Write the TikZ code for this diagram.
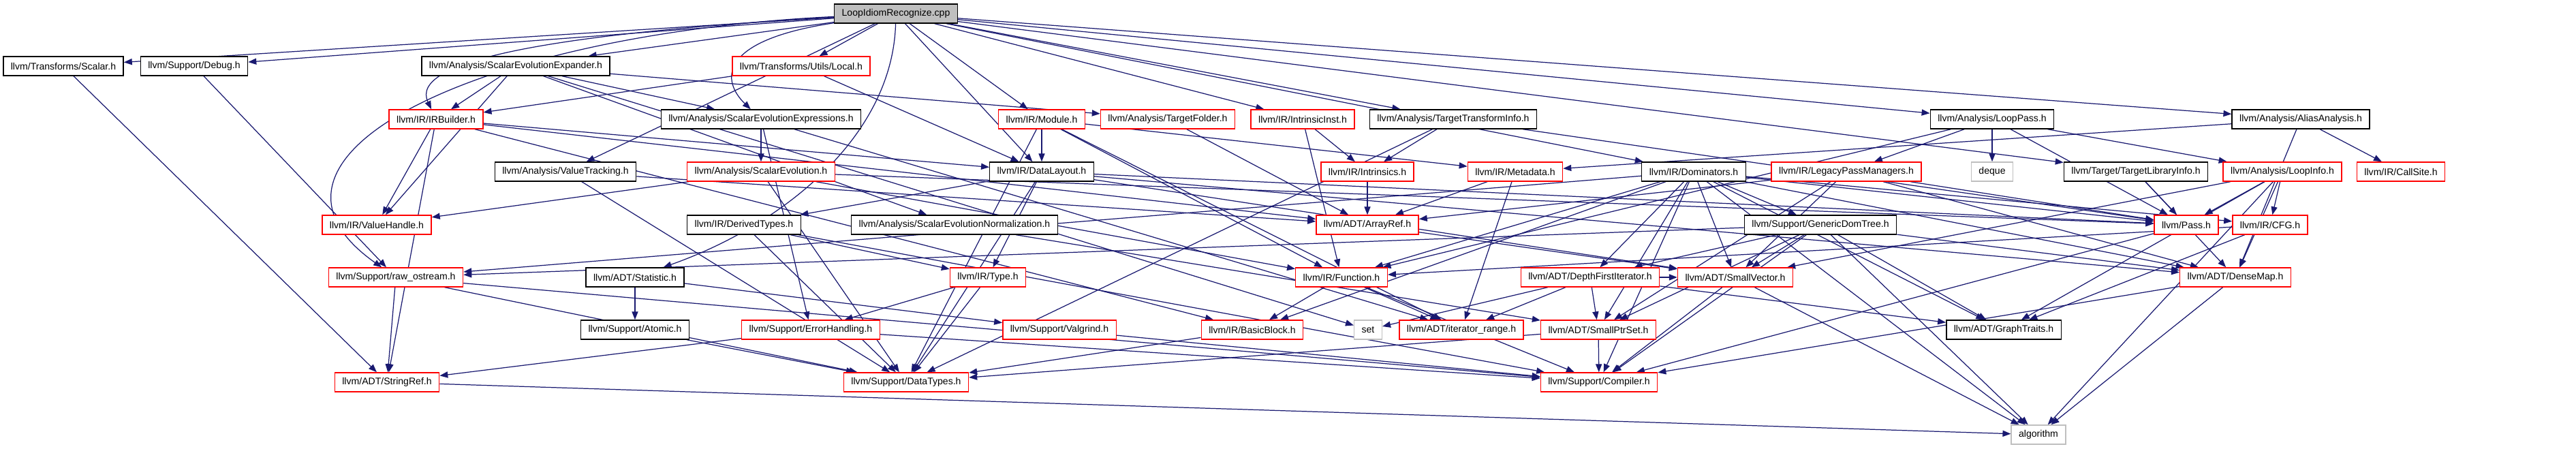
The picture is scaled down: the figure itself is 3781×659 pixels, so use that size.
\documentclass[tikz,border=0pt]{standalone}
\usepackage{fontspec}
\setmainfont{Liberation Sans}
\usetikzlibrary{arrows.meta,backgrounds}
\definecolor{edgeblue}{HTML}{191970}
\definecolor{sysgray}{HTML}{BFBFBF}

\begin{document}
\begin{tikzpicture}[
		x=0.01cm, y=-0.01cm,
		every node/.style={draw=black, fill=white, line width=0.4pt, font=\fontsize{4}{4.8}\selectfont,
			minimum height=0.28cm, inner xsep=0.11cm, inner ysep=0pt},
		trunc/.style={draw=red},
		sys/.style={draw=sysgray},
		srcfile/.style={fill=sysgray},
		dep/.style={draw=edgeblue, line width=0.35pt, -{Triangle[length=3.4pt,width=2.6pt]}}
	]
	\useasboundingbox (0,0) rectangle (3781,659);

	\node[srcfile] (root) at (1315,20) {LoopIdiomRecognize.cpp};

	\node (scalarh) at (93,97) {llvm/Transforms/Scalar.h};
	\node (debugh) at (285,97) {llvm/Support/Debug.h};
	\node (expander) at (757,97) {llvm/Analysis/ScalarEvolutionExpander.h};
	\node[trunc] (localh) at (1176,97) {llvm/Transforms/Utils/Local.h};

	\node[trunc] (irbuilder) at (640,175) {llvm/IR/IRBuilder.h};
	\node (scevexpr) at (1117,175) {llvm/Analysis/ScalarEvolutionExpressions.h};
	\node[trunc] (moduleh) at (1529,175) {llvm/IR/Module.h};
	\node[trunc] (folder) at (1714,175) {llvm/Analysis/TargetFolder.h};
	\node[trunc] (intrinst) at (1912,175) {llvm/IR/IntrinsicInst.h};
	\node (tti) at (2133,175) {llvm/Analysis/TargetTransformInfo.h};
	\node (looppass) at (2924,175) {llvm/Analysis/LoopPass.h};
	\node (alias) at (3377,175) {llvm/Analysis/AliasAnalysis.h};

	\node (valtrack) at (830,252) {llvm/Analysis/ValueTracking.h};
	\node[trunc] (scev) at (1117,252) {llvm/Analysis/ScalarEvolution.h};
	\node (layout) at (1529,252) {llvm/IR/DataLayout.h};
	\node[trunc] (intrinsics) at (2007,252) {llvm/IR/Intrinsics.h};
	\node[trunc] (metadata) at (2224,252) {llvm/IR/Metadata.h};
	\node (domtree) at (2486,252) {llvm/IR/Dominators.h};
	\node[trunc] (legacypm) at (2710,252) {llvm/IR/LegacyPassManagers.h};
	\node[sys] (deque) at (2924,252) {deque};
	\node (tli) at (3135,252) {llvm/Target/TargetLibraryInfo.h};
	\node[trunc] (loopinfo) at (3350,252) {llvm/Analysis/LoopInfo.h};
	\node[trunc] (callsite) at (3524,252) {llvm/IR/CallSite.h};

	\node[trunc] (valhandle) at (553,330) {llvm/IR/ValueHandle.h};
	\node (dertypes) at (1092,330) {llvm/IR/DerivedTypes.h};
	\node (scevnorm) at (1401,330) {llvm/Analysis/ScalarEvolutionNormalization.h};
	\node[trunc] (arrayref) at (2007,330) {llvm/ADT/ArrayRef.h};
	\node (gendom) at (2672,330) {llvm/Support/GenericDomTree.h};
	\node[trunc] (passh) at (3209,330) {llvm/Pass.h};
	\node[trunc] (cfgh) at (3332,330) {llvm/IR/CFG.h};

	\node[trunc] (rawos) at (581,407) {llvm/Support/raw\_ostream.h};
	\node (stat) at (932,407) {llvm/ADT/Statistic.h};
	\node[trunc] (typeh) at (1450,407) {llvm/IR/Type.h};
	\node[trunc] (funch) at (1969,407) {llvm/IR/Function.h};
	\node[trunc] (dfiter) at (2334,407) {llvm/ADT/DepthFirstIterator.h};
	\node[trunc] (smallvec) at (2547,407) {llvm/ADT/SmallVector.h};
	\node[trunc] (densemap) at (3281,407) {llvm/ADT/DenseMap.h};

	\node (atomic) at (932,484) {llvm/Support/Atomic.h};
	\node[trunc] (errh) at (1190,484) {llvm/Support/ErrorHandling.h};
	\node[trunc] (valgrind) at (1555,484) {llvm/Support/Valgrind.h};
	\node[trunc] (bblock) at (1838,484) {llvm/IR/BasicBlock.h};
	\node[sys] (setnode) at (2008,484) {set};
	\node[trunc] (iterrange) at (2145,484) {llvm/ADT/iterator\_range.h};
	\node[trunc] (smallptr) at (2346,484) {llvm/ADT/SmallPtrSet.h};
	\node (graphtr) at (2941,484) {llvm/ADT/GraphTraits.h};

	\node[trunc] (strref) at (568,561) {llvm/ADT/StringRef.h};
	\node[trunc] (datatypes) at (1330,561) {llvm/Support/DataTypes.h};
	\node[trunc] (compiler) at (2347,561) {llvm/Support/Compiler.h};

	\node[sys] (algo) at (2992,638) {algorithm};

	\begin{pgfonlayer}{background}
	\draw[dep] (root) -- (scalarh);
	\draw[dep] (root) -- (debugh);
	\draw[dep] (root) -- (expander);
	\draw[dep] (root) -- (localh);
	\draw[dep] (root) .. controls (800,50) and (600,90) .. (irbuilder);
	\draw[dep] (root) .. controls (1050,60) and (1060,120) .. (scevexpr);
	\draw[dep] (root) -- (moduleh);
	\draw[dep] (root) -- (intrinst);
	\draw[dep] (root) -- (tti);
	\draw[dep] (root) -- (looppass);
	\draw[dep] (root) -- (alias);
	\draw[dep] (root) -- (valtrack);
	\draw[dep] (root) -- (layout);
	\draw[dep] (root) -- (domtree);
	\draw[dep] (root) -- (tli);
	\draw[dep] (root) .. controls (700,50) and (330,230) .. (rawos);
	\draw[dep] (root) .. controls (1310,200) and (1150,330) .. (stat);

	\draw[dep] (scalarh) -- (strref);
	\draw[dep] (debugh) -- (rawos);

	\draw[dep] (expander) -- (scevexpr);
	\draw[dep] (expander) -- (scevnorm);
	\draw[dep] (expander) -- (folder);
	\draw[dep] (expander) -- (irbuilder);
	\draw[dep] (expander) -- (valhandle);
	\draw[dep] (expander) -- (setnode);

	\draw[dep] (localh) -- (irbuilder);
	\draw[dep] (localh) -- (layout);

	\draw[dep] (irbuilder) -- (arrayref);
	\draw[dep] (irbuilder) -- (strref);
	\draw[dep] (irbuilder) -- (bblock);
	\draw[dep] (irbuilder) -- (layout);
	\draw[dep] (irbuilder) -- (valhandle);

	\draw[dep] (scevexpr) -- (scev);
	\draw[dep] (scevexpr) -- (iterrange);
	\draw[dep] (scevexpr) -- (errh);

	\draw[dep] (moduleh) -- (layout);
	\draw[dep] (moduleh) -- (funch);
	\draw[dep] (moduleh) -- (metadata);
	\draw[dep] (moduleh) -- (iterrange);
	\draw[dep] (moduleh) -- (datatypes);

	\draw[dep] (folder) -- (arrayref);
	\draw[dep] (intrinst) -- (funch);
	\draw[dep] (intrinst) -- (intrinsics);

	\draw[dep] (tti) -- (intrinsics);
	\draw[dep] (tti) -- (passh);
	\draw[dep] (tti) -- (datatypes);

	\draw[dep] (looppass) -- (loopinfo);
	\draw[dep] (looppass) -- (legacypm);
	\draw[dep] (looppass) -- (funch);
	\draw[dep] (looppass) -- (passh);
	\draw[dep] (looppass) -- (deque);

	\draw[dep] (alias) -- (callsite);
	\draw[dep] (alias) -- (metadata);
	\draw[dep] (alias) -- (densemap);

	\draw[dep] (valtrack) -- (arrayref);
	\draw[dep] (valtrack) -- (datatypes);

	\draw[dep] (scev) -- (funch);
	\draw[dep] (scev) -- (valhandle);
	\draw[dep] (scev) -- (passh);
	\draw[dep] (scev) -- (datatypes);

	\draw[dep] (layout) -- (densemap);
	\draw[dep] (layout) -- (smallvec);
	\draw[dep] (layout) -- (dertypes);
	\draw[dep] (layout) -- (typeh);
	\draw[dep] (layout) -- (passh);
	\draw[dep] (layout) -- (datatypes);

	\draw[dep] (intrinsics) -- (arrayref);
	\draw[dep] (metadata) -- (arrayref);
	\draw[dep] (metadata) -- (iterrange);

	\draw[dep] (domtree) -- (densemap);
	\draw[dep] (domtree) -- (dfiter);
	\draw[dep] (domtree) -- (graphtr);
	\draw[dep] (domtree) -- (smallptr);
	\draw[dep] (domtree) -- (smallvec);
	\draw[dep] (domtree) -- (bblock);
	\draw[dep] (domtree) -- (cfgh);
	\draw[dep] (domtree) -- (funch);
	\draw[dep] (domtree) -- (passh);
	\draw[dep] (domtree) -- (compiler);
	\draw[dep] (domtree) -- (gendom);
	\draw[dep] (domtree) -- (rawos);
	\draw[dep] (domtree) -- (algo);

	\draw[dep] (legacypm) -- (arrayref);
	\draw[dep] (legacypm) -- (densemap);
	\draw[dep] (legacypm) -- (smallptr);
	\draw[dep] (legacypm) -- (smallvec);
	\draw[dep] (legacypm) -- (passh);

	\draw[dep] (tli) -- (densemap);
	\draw[dep] (tli) -- (passh);

	\draw[dep] (loopinfo) -- (densemap);
	\draw[dep] (loopinfo) -- (graphtr);
	\draw[dep] (loopinfo) -- (smallvec);
	\draw[dep] (loopinfo) -- (cfgh);
	\draw[dep] (loopinfo) -- (passh);
	\draw[dep] (loopinfo) -- (algo);

	\draw[dep] (dertypes) -- (typeh);
	\draw[dep] (dertypes) -- (datatypes);
	\draw[dep] (dertypes) -- (compiler);
	\draw[dep] (scevnorm) -- (smallptr);
	\draw[dep] (arrayref) -- (smallvec);

	\draw[dep] (gendom) -- (densemap);
	\draw[dep] (gendom) -- (dfiter);
	\draw[dep] (gendom) -- (graphtr);
	\draw[dep] (gendom) -- (smallptr);
	\draw[dep] (gendom) -- (smallvec);
	\draw[dep] (gendom) -- (compiler);
	\draw[dep] (gendom) -- (rawos);
	\draw[dep] (gendom) -- (algo);

	\draw[dep] (passh) -- (compiler);
	\draw[dep] (cfgh) -- (funch);
	\draw[dep] (cfgh) -- (graphtr);

	\draw[dep] (rawos) -- (strref);
	\draw[dep] (rawos) -- (compiler);
	\draw[dep] (rawos) -- (datatypes);
	\draw[dep] (stat) -- (atomic);
	\draw[dep] (stat) -- (valgrind);
	\draw[dep] (typeh) -- (errh);
	\draw[dep] (typeh) -- (datatypes);

	\draw[dep] (funch) -- (iterrange);
	\draw[dep] (funch) -- (bblock);
	\draw[dep] (funch) -- (compiler);

	\draw[dep] (dfiter) -- (graphtr);
	\draw[dep] (dfiter) -- (smallptr);
	\draw[dep] (dfiter) -- (smallvec);
	\draw[dep] (dfiter) -- (iterrange);
	\draw[dep] (dfiter) -- (setnode);

	\draw[dep] (smallvec) -- (compiler);
	\draw[dep] (smallvec) -- (algo);
	\draw[dep] (densemap) -- (compiler);
	\draw[dep] (densemap) -- (algo);

	\draw[dep] (atomic) -- (datatypes);
	\draw[dep] (errh) -- (strref);
	\draw[dep] (errh) -- (compiler);
	\draw[dep] (valgrind) -- (compiler);
	\draw[dep] (bblock) -- (datatypes);
	\draw[dep] (smallptr) -- (compiler);
	\draw[dep] (smallptr) -- (datatypes);
	\draw[dep] (strref) -- (algo);
	\end{pgfonlayer}
\end{tikzpicture}
\end{document}
